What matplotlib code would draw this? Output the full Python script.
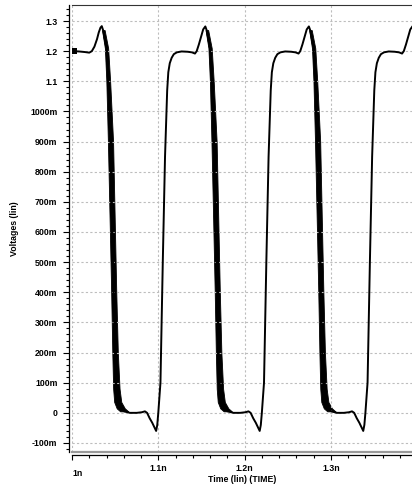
import matplotlib.pyplot as plt
from matplotlib.ticker import FixedLocator, MultipleLocator

plt.rcParams['font.family'] = ['Liberation Sans', 'DejaVu Sans']

# waveform (centre of the trace), time in ns, voltage in V
time_ns = [
    1.000, 1.008, 1.015, 1.020, 1.023, 1.026, 1.029, 1.031, 1.033, 1.0345,
    1.0360, 1.0400, 1.0420, 1.0446, 1.0468, 1.0483, 1.0499, 1.0514, 1.0530, 1.0565, 1.0605, 1.0670,
    1.075, 1.081, 1.0845, 1.087, 1.090, 1.093, 1.0955, 1.0975, 1.0988,
    1.1000, 1.1025, 1.1052, 1.1078, 1.1090, 1.1103, 1.1116, 1.1133, 1.1155, 1.118,
    1.1215, 1.127, 1.134, 1.139, 1.1425, 1.1445, 1.147, 1.150, 1.152, 1.1545,
    1.1560, 1.1600, 1.1620, 1.1646, 1.1668, 1.1683, 1.1699, 1.1714, 1.1730, 1.1765, 1.1805, 1.1870,
    1.195, 1.201, 1.2045, 1.207, 1.210, 1.213, 1.2155, 1.2175, 1.2188,
    1.2200, 1.2225, 1.2252, 1.2278, 1.2290, 1.2303, 1.2316, 1.2333, 1.2355, 1.238,
    1.2415, 1.247, 1.254, 1.259, 1.2625, 1.2645, 1.267, 1.270, 1.272, 1.2745,
    1.2760, 1.2800, 1.2820, 1.2846, 1.2868, 1.2883, 1.2899, 1.2914, 1.2930, 1.2965, 1.3005, 1.3070,
    1.315, 1.321, 1.3245, 1.327, 1.330, 1.333, 1.3355, 1.3375, 1.3388,
    1.3400, 1.3425, 1.3452, 1.3478, 1.3490, 1.3503, 1.3516, 1.3533, 1.3555, 1.358,
    1.3615, 1.367, 1.374, 1.379, 1.3825, 1.3845, 1.387, 1.390, 1.392, 1.3945,
]
volts = [
    1.200, 1.199, 1.197, 1.195, 1.200, 1.215, 1.240, 1.262, 1.278, 1.283,
    1.270, 1.210, 1.100, 0.900, 0.600, 0.400, 0.200, 0.080, 0.036, 0.015, 0.005, 0.000,
    0.000, 0.002, 0.005, 0.000, -0.018, -0.033, -0.048, -0.060, -0.040,
    0.000, 0.100, 0.500, 0.850, 0.960, 1.070, 1.130, 1.160, 1.178, 1.190,
    1.196, 1.199, 1.198, 1.196, 1.192, 1.200, 1.222, 1.252, 1.272, 1.282,
    1.270, 1.210, 1.100, 0.900, 0.600, 0.400, 0.200, 0.080, 0.036, 0.015, 0.005, 0.000,
    0.000, 0.002, 0.005, 0.000, -0.018, -0.033, -0.048, -0.060, -0.040,
    0.000, 0.100, 0.500, 0.850, 0.960, 1.070, 1.130, 1.160, 1.178, 1.190,
    1.196, 1.199, 1.198, 1.196, 1.192, 1.200, 1.222, 1.252, 1.272, 1.282,
    1.270, 1.210, 1.100, 0.900, 0.600, 0.400, 0.200, 0.080, 0.036, 0.015, 0.005, 0.000,
    0.000, 0.002, 0.005, 0.000, -0.018, -0.033, -0.048, -0.060, -0.040,
    0.000, 0.100, 0.500, 0.850, 0.960, 1.070, 1.130, 1.160, 1.178, 1.190,
    1.196, 1.199, 1.198, 1.196, 1.192, 1.200, 1.222, 1.252, 1.272, 1.282,
]

# falling edges are smeared (jitter band): earliest and latest crossing per level
fall_v = [1.27, 1.21, 1.10, 0.90, 0.60, 0.40, 0.20, 0.08, 0.036, 0.015, 0.005]
edge1_early = [1.0348, 1.0381, 1.0398, 1.0416, 1.0439, 1.0454, 1.0467, 1.0477, 1.0489, 1.0518, 1.0558]
edge1_late = [1.0378, 1.0419, 1.0442, 1.0476, 1.0498, 1.0513, 1.0531, 1.0551, 1.0571, 1.0612, 1.0652]
edge2_early = [1.1548, 1.1581, 1.1598, 1.1616, 1.1639, 1.1654, 1.1667, 1.1677, 1.1689, 1.1718, 1.1758]
edge2_late = [1.1578, 1.1619, 1.1642, 1.1676, 1.1698, 1.1713, 1.1731, 1.1751, 1.1771, 1.1812, 1.1852]
edge3_early = [1.2748, 1.2781, 1.2798, 1.2816, 1.2839, 1.2854, 1.2867, 1.2877, 1.2889, 1.2918, 1.2958]
edge3_late = [1.2778, 1.2819, 1.2842, 1.2876, 1.2898, 1.2913, 1.2931, 1.2951, 1.2971, 1.3012, 1.3052]

y_ticks = [-0.1, 0.0, 0.1, 0.2, 0.3, 0.4, 0.5, 0.6, 0.7, 0.8, 0.9, 1.0, 1.1, 1.2, 1.3]
y_labels = ['-100m', '0', '100m', '200m', '300m', '400m', '500m', '600m',
            '700m', '800m', '900m', '1000m', '1.1', '1.2', '1.3']
x_ticks = [1.0, 1.1, 1.2, 1.3]
x_labels = ['', '1.1n', '1.2n', '1.3n']

fig = plt.figure(figsize=(4.12, 4.86), dpi=100)
ax = fig.add_axes([72 / 412, 34 / 486, 340 / 412, 447 / 486])

# trace
ax.plot(time_ns, volts, color='black', lw=1.4, solid_joinstyle='round')
for early, late in [(edge1_early, edge1_late), (edge2_early, edge2_late), (edge3_early, edge3_late)]:
    ax.fill_betweenx(fall_v, early, late, color='black', lw=0.6)

# start marker
ax.plot([1.0022], [1.199], marker='s', ms=4.5, color='black', mew=0)

ax.set_xlim(1.0, 1.394)
ax.set_ylim(-0.1299, 1.3531)

# axes frame
ax.spines['right'].set_visible(False)
ax.spines['top'].set_color('#333333')
ax.spines['left'].set_position(('outward', 2.2))
ax.spines['bottom'].set_position(('outward', 2.2))
ax.spines['left'].set_linewidth(0.9)
ax.spines['bottom'].set_linewidth(0.9)
ax.axhline(-0.1299, color='#999999', lw=1.6, clip_on=False)

ax.yaxis.set_major_locator(FixedLocator(y_ticks))
ax.yaxis.set_minor_locator(MultipleLocator(0.02))
ax.xaxis.set_major_locator(FixedLocator(x_ticks))
ax.xaxis.set_minor_locator(MultipleLocator(0.02))
ax.set_yticklabels(y_labels, fontweight='bold')
ax.set_xticklabels(x_labels, fontweight='bold')

ax.tick_params(axis='both', which='both', direction='out', width=0.8, labelsize=6.3)
ax.tick_params(axis='y', which='major', length=4.3, pad=4)
ax.tick_params(axis='y', which='minor', length=2.2)
ax.tick_params(axis='x', which='major', length=3.6, pad=3)
ax.tick_params(axis='x', which='minor', length=2.0)

ax.grid(True, which='major', color='#bdbdbd', linestyle=(0, (2, 2)), lw=0.8)

# labels
ax.text(1.0, -0.047, '1n', transform=ax.get_xaxis_transform(), ha='left', va='center',
        fontsize=6.3, fontweight='bold')
ax.text(0.5, -0.061, 'Time (lin) (TIME)', transform=ax.transAxes, ha='center', va='center',
        fontsize=6.3, fontweight='bold')
ax.text(-0.168, 0.5, 'Voltages (lin)', transform=ax.transAxes, ha='center', va='center',
        rotation=90, fontsize=6.3, fontweight='bold')

fig.savefig('out.png', dpi=100)
